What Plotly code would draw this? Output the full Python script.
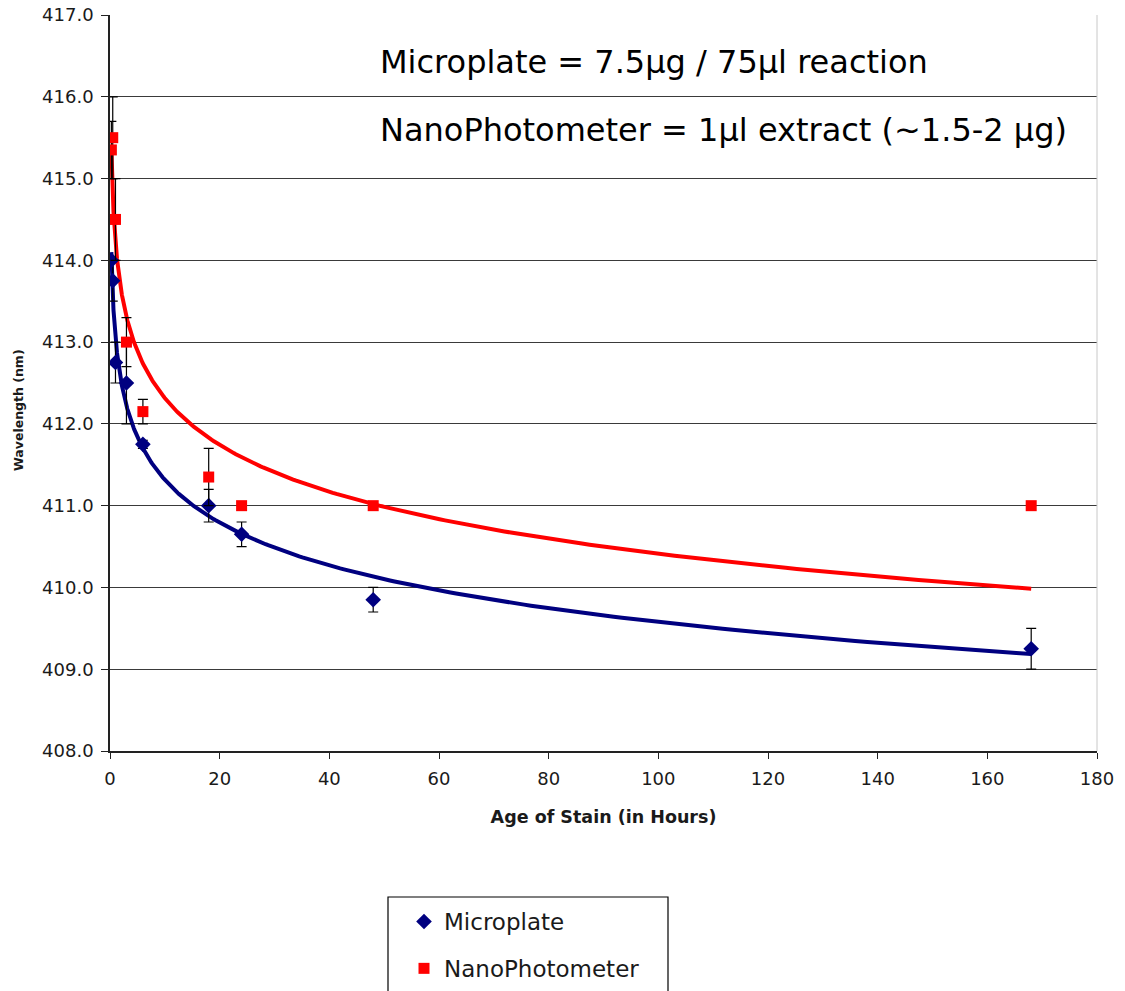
import numpy as np
import plotly.graph_objects as go

# Age of stain (hours) at each measurement
hours = [0.25, 0.5, 1, 3, 6, 18, 24, 48, 168]

# Peak wavelength (nm) and error-bar half-widths per method
microplate_nm = [414.0, 413.75, 412.75, 412.5, 411.75, 411.0, 410.65, 409.85, 409.25]
microplate_err = [0.0, 0.25, 0.25, 0.5, 0.05, 0.2, 0.15, 0.15, 0.25]
nano_nm = [415.35, 415.5, 414.5, 413.0, 412.15, 411.35, 411.0, 411.0, 411.0]
nano_err = [0.35, 0.5, 0.5, 0.3, 0.15, 0.35, 0.0, 0.0, 0.0]

y_ticks = [408, 409, 410, 411, 412, 413, 414, 415, 416, 417]
x_ticks = [0, 20, 40, 60, 80, 100, 120, 140, 160, 180]

BLUE = "#000080"
RED = "#FF0000"
FONT = "DejaVu Sans"
TXT = "#1a1a1a"


def log_trend(x, y):
    """Least-squares logarithmic trendline y = a + b*ln(x) over the data range."""
    x = np.asarray(x, float)
    y = np.asarray(y, float)
    b, a = np.polyfit(np.log(x), y, 1)
    xs = np.geomspace(x.min(), x.max(), 400)
    return xs, a + b * np.log(xs)


fig = go.Figure()

# trendlines underneath the markers
for ys, col in ((microplate_nm, BLUE), (nano_nm, RED)):
    tx, ty = log_trend(hours, ys)
    fig.add_trace(go.Scatter(x=tx, y=ty, mode="lines", line=dict(color=col, width=4),
                             showlegend=False, hoverinfo="skip"))

fig.add_trace(go.Scatter(
    x=hours, y=microplate_nm, mode="markers", name="Microplate",
    legendgroup="a",
    marker=dict(symbol="diamond", size=12, color=BLUE),
    error_y=dict(type="data", array=microplate_err, color="black", thickness=1.2, width=5),
))
fig.add_trace(go.Scatter(
    x=hours, y=nano_nm, mode="markers", name="NanoPhotometer",
    legendgroup="b",
    marker=dict(symbol="square", size=11, color=RED),
    error_y=dict(type="data", array=nano_err, color="black", thickness=1.2, width=5),
))

W, H = 1125, 991
L, R, T, B = 110, 28, 15, 240
pw, ph = W - L - R, H - T - B


def px_x(p):
    return (p - L) / pw


def px_y(p):
    return (H - B - p) / ph


fig.update_layout(
    width=W, height=H,
    margin=dict(l=L, r=R, t=T, b=B, autoexpand=False),
    paper_bgcolor="white", plot_bgcolor="white",
    font=dict(family=FONT, color=TXT),
    showlegend=True,
    legend=dict(
        x=px_x(404), y=px_y(900), xanchor="left", yanchor="top",
        font=dict(family=FONT, size=23, color=TXT),
        bgcolor="rgba(0,0,0,0)", borderwidth=0,
        traceorder="grouped", tracegroupgap=14,
        itemwidth=30,
    ),
    xaxis=dict(
        range=[0, 180], tickvals=x_ticks, ticks="outside", ticklen=6,
        tickcolor="#222", tickwidth=1.2,
        showline=True, linecolor="#222", linewidth=1.5,
        showgrid=False, zeroline=False,
        tickfont=dict(family=FONT, size=18, color=TXT),
        ticklabelstandoff=5,
        title=dict(text="<b>Age of Stain (in Hours)</b>",
                   font=dict(family=FONT, size=17.5, color=TXT), standoff=22),
    ),
    yaxis=dict(
        range=[408, 417], tickvals=y_ticks, tickformat=".1f",
        ticks="outside", ticklen=7, tickcolor="#222", tickwidth=1.2,
        showline=True, linecolor="#222", linewidth=1.5,
        showgrid=True, gridcolor="#3a3a3a", gridwidth=1.2, zeroline=False,
        tickfont=dict(family=FONT, size=18, color=TXT),
        ticklabelstandoff=4,
    ),
    annotations=[
        dict(text="<b>Wavelength (nm)</b>", xref="paper", yref="paper",
             x=px_x(18), y=px_y(410), xanchor="center", yanchor="middle",
             textangle=-90, showarrow=False,
             font=dict(family=FONT, size=12.5, color=TXT)),
        dict(text="Microplate = 7.5μg / 75μl reaction", xref="paper", yref="paper",
             x=px_x(378), y=px_y(62), xanchor="left", yanchor="middle", showarrow=False,
             font=dict(family=FONT, size=32, color="black")),
        dict(text="NanoPhotometer = 1μl extract (~1.5-2 μg)", xref="paper", yref="paper",
             x=px_x(378), y=px_y(130), xanchor="left", yanchor="middle", showarrow=False,
             font=dict(family=FONT, size=32, color="black")),
    ],
    shapes=[
        # legend frame
        dict(type="rect", xref="paper", yref="paper",
             x0=px_x(388), x1=px_x(668), y0=px_y(1010), y1=px_y(897),
             line=dict(color="black", width=1.2), fillcolor="rgba(0,0,0,0)"),
        # faint right edge of plot area
        dict(type="line", xref="paper", yref="paper", x0=1, x1=1, y0=0, y1=1,
             line=dict(color="#c8c8c8", width=1)),
    ],
)

fig.write_html("out.html")
